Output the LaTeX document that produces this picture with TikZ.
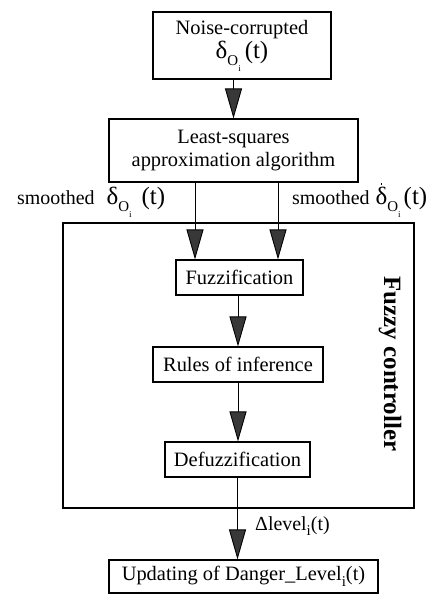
\documentclass[tikz,border=0pt]{standalone}
\usepackage{fontspec}
\setmainfont{Liberation Serif}
\usetikzlibrary{arrows.meta}
\newcommand\bigfs{\fontsize{25}{25}\selectfont}
\newcommand\subOi{\raisebox{-7bp}{\fontsize{15}{15}\selectfont O}\raisebox{-13bp}{\fontsize{9}{9}\selectfont i}\kern2bp}
\newcommand\dotdelta{\ooalign{δ\cr\hidewidth\raisebox{0.78em}{\rule{1.7bp}{1.9bp}}\hidewidth\cr}}
\newcommand\subi{\raisebox{-0.3em}{\fontsize{15}{15}\selectfont i}}
\begin{document}
\begin{tikzpicture}[x=1bp,y=-1bp,
  every node/.style={font=\fontsize{20.5}{23}\selectfont},
  box/.style={draw, line width=1.1bp, inner sep=0pt, align=center},
  arr/.style={line width=0.9bp, -{Triangle[length=30bp,width=17bp,fill=black!78]}},
  lbl/.style={anchor=base west, inner sep=0pt}]
\useasboundingbox (0,0) rectangle (446,595);
% boxes
\node[box, minimum width=178bp, minimum height=67bp] (noise) at (242,45.5)
  {Noise-corrupted\\[1pt] {\bigfs δ}\subOi\hspace{2bp}{\bigfs(t)}};
\node[box, minimum width=249bp, minimum height=63bp] (lsq) at (233.5,150.5)
  {Least-squares\\approximation algorithm};
\node[draw, line width=1.4bp, minimum width=351bp, minimum height=285bp, inner sep=0pt] (fc) at (238.5,365.5) {};
\node[box, minimum width=127bp, minimum height=35bp] (fuzz) at (239.5,277.5) {Fuzzification};
\node[box, minimum width=170bp, minimum height=35bp] (rules) at (238,364.5) {Rules of inference};
\node[box, minimum width=145bp, minimum height=35bp] (defuzz) at (237.5,459.5) {Defuzzification};
\node[box, minimum width=269bp, minimum height=33bp] (update) at (243.5,576.5) {Updating of Danger\_Level\subi(t)};
% labels
\node[rotate=-90, font=\bfseries\fontsize{25}{25}\selectfont] (fclabel) at (390,364) {Fuzzy controller};
\node[lbl, font=\fontsize{20}{22}\selectfont] (lsm) at (17,204) {smoothed\hspace{12bp}{\bigfs δ}\subOi\hspace{8bp}{\bigfs (t)}};
\node[lbl, font=\fontsize{20}{22}\selectfont] (rsm) at (292,204) {smoothed\hspace{6bp}{\bigfs\dotdelta}\subOi\hspace{1bp}{\bigfs (t)}};
\node[lbl, font=\fontsize{20}{22}\selectfont] (dl) at (255,530) {Δlevel\subi(t)};
% connectors
\draw[arr] (noise.south -| lsq.north) -- (lsq.north);
\draw[arr] ([xshift=-44.5bp]fuzz.north |- lsq.south) -- ([xshift=-44.5bp]fuzz.north);
\draw[arr] ([xshift=38.5bp]fuzz.north |- lsq.south) -- ([xshift=38.5bp]fuzz.north);
\draw[arr] (fuzz.south -| rules.north) -- (rules.north);
\draw[arr] (rules.south) -- (rules.south |- defuzz.north);
\draw[arr] (defuzz.south) -- (defuzz.south |- update.north);
\end{tikzpicture}
\end{document}
